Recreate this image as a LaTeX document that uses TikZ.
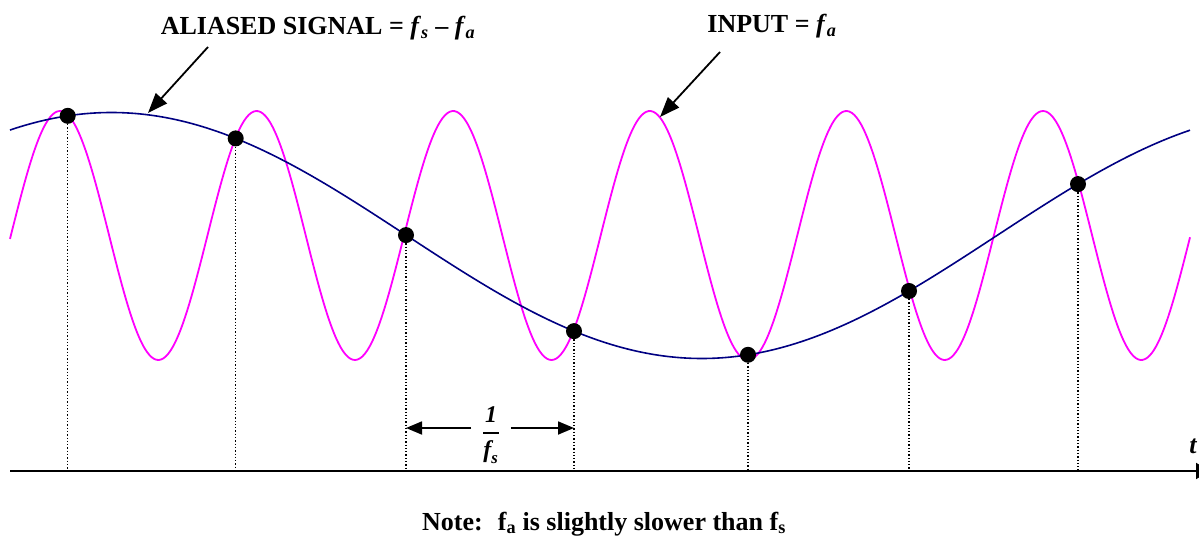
\documentclass[tikz,border=0pt]{standalone}
\usepackage{amsmath}
\usepackage{fontspec}
\setmainfont{Liberation Serif}
\usepackage{tikz}
\usetikzlibrary{arrows.meta,positioning,calc}
\newcommand{\bfi}[1]{\text{\bfseries\itshape #1}}
\definecolor{sigpink}{RGB}{255,0,255}
\definecolor{sigblue}{RGB}{0,0,130}

\begin{document}
\begin{tikzpicture}[
    x=1pt, y=-1pt,
    every node/.style={font=\bfseries\fontsize{26}{30}\selectfont},
    smp/.style={circle,fill=black,minimum size=16pt,inner sep=0pt},
    droplines/.style={dotted,line width=1.3pt},
    callout/.style={line width=1.8pt,-{Triangle[length=20pt,width=15pt]}},
    spanarrow/.style={line width=1.8pt,-{Triangle[length=16pt,width=13pt]}},
    inwave/.style={sigpink,line width=1.8pt},
    aliaswave/.style={sigblue,line width=1.6pt}
  ]
  \useasboundingbox (0,0) rectangle (1199,537);

  % signals
  \draw[inwave] plot[domain=10:1190,samples=500,smooth]
    (\x,{235.5-124.5*cos((\x-60)/196.6*360)});
  \draw[aliaswave] plot[domain=10:1190,samples=200,smooth]
    (\x,{235.5-123*cos((\x-111.5)/1180.6*360)});

  % time axis
  \coordinate (ax0) at (10,471);
  \coordinate (ax1) at (1210,471);
  \draw[line width=2pt,-{Triangle[length=14pt,width=16pt]}] (ax0) -- (ax1);
  \node[anchor=base] (tlbl) at (1193,453) {\itshape t};

  % samples
  \foreach \n/\px in {1/67.7,2/235.7,3/406,4/574,5/748,6/909,7/1078}
    \node[smp] (s\n) at (\px,{235.5-123*cos((\px-111.5)/1180.6*360)}) {};
  \foreach \n in {1,...,7}
    \draw[droplines] (s\n.south) -- (s\n |- ax0);

  % sampling period
  \node[inner xsep=11pt,font=\bfseries\fontsize{24}{28}\selectfont] (per) at (491,435)
    {$\displaystyle{\bfi{1}\above 2pt\bfi{f}_{\bfi{s}}}$};
  \draw[spanarrow] (per.west |- 0,428) -- (s3 |- 0,428);
  \draw[spanarrow] (per.east |- 0,428) -- (s4 |- 0,428);

  % labels
  \node[anchor=base] (aliaslbl) at (318,35)
    {ALIASED SIGNAL = \textit{f}\textsubscript{\textit{s}} -- \textit{f}\textsubscript{\textit{a}}};
  \node[anchor=base] (inlbl) at (772,33) {INPUT = \textit{f}\textsubscript{\textit{a}}};
  \coordinate (aliastail) at (208,47);
  \coordinate (aliastip) at (148,113);
  \coordinate (intail) at (720,52);
  \coordinate (intip) at (660,117);
  \draw[callout] (aliastail) -- (aliastip);
  \draw[callout] (intail) -- (intip);

  \node[anchor=base] (note) at (604,530)
    {Note:~ f\textsubscript{a} is slightly slower than f\textsubscript{s}};
\end{tikzpicture}
\end{document}
